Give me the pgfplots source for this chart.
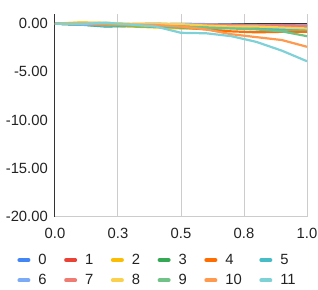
\documentclass[border=0pt]{standalone}
\usepackage{pgfplots}
\pgfplotsset{compat=1.18}
\usepackage{fontspec}
\setmainfont{Liberation Sans}
\definecolor{c0}{HTML}{4285F4}
\definecolor{c1}{HTML}{EA4335}
\definecolor{c2}{HTML}{FBBC04}
\definecolor{c3}{HTML}{34A853}
\definecolor{c4}{HTML}{FF6D01}
\definecolor{c5}{HTML}{46BDC6}
\definecolor{c6}{HTML}{7BAAF7}
\definecolor{c7}{HTML}{F07B72}
\definecolor{c8}{HTML}{FCD04F}
\definecolor{c9}{HTML}{71C287}
\definecolor{c10}{HTML}{FF994D}
\definecolor{c11}{HTML}{7ED1D7}
\definecolor{gridc}{HTML}{CCCCCC}
\definecolor{darkc}{HTML}{333333}
\definecolor{txt}{HTML}{222222}
\begin{document}
\begin{tikzpicture}[x=1pt,y=1pt]
\useasboundingbox (-55pt,-72.5pt) rectangle (263pt,216.5pt);
\begin{axis}[
  scale only axis,
  width=252pt, height=202.5pt,
  xmin=0, xmax=1, ymin=-20, ymax=1,
  axis x line*=bottom, axis y line*=left,
  x axis line style={draw=gridc, line width=1pt, -},
  y axis line style={draw=darkc, line width=1pt, -},
  xtick={0,0.25,0.5,0.75,1},
  xticklabels={0.0,0.3,0.5,0.8,1.0},
  ytick={-20,-15,-10,-5,0},
  yticklabels={-20.00,-15.00,-10.00,-5.00,0.00},
  major tick length=0pt,
  tick style={draw=none},
  xmajorgrids,
  major grid style={draw=gridc, line width=1pt},
  extra y ticks={0},
  extra y tick labels={},
  extra y tick style={ymajorgrids=true, major grid style={draw=darkc, line width=1pt}},
  ticklabel style={font=\fontsize{14.8}{16}\selectfont, text=txt},
  yticklabel style={inner sep=0pt, xshift=-7pt},
  xticklabel style={inner sep=0pt, anchor=center, yshift=-16.5pt},
  /pgf/number format/assume math mode=true,
  every axis plot/.append style={line width=2.2pt, line join=round},
  legend columns=6,
  legend cell align=left,
  legend style={draw=none, fill=none, at={(axis description cs:0.405,-0.17)}, anchor=north,
    font=\fontsize{14.8}{16}\selectfont, text=txt,
    nodes={inner sep=1pt},
    row sep=6.5pt,
    /tikz/every odd column/.append style={column sep=7pt},
    /tikz/every even column/.append style={column sep=16.5pt}},
  legend image code/.code={\draw[line width=4pt, line cap=round, #1] (2pt,0pt) -- (11pt,0pt);},
]
\addplot[c0] coordinates {(0,0) (0.1,-0.05) (0.2,-0.1) (0.3,-0.05) (0.4,0) (0.5,-0.1) (0.6,-0.15) (0.7,-0.1) (0.8,-0.2) (0.9,-0.25) (1,-0.3)};
\addlegendentry{0}
\addplot[c1] coordinates {(0,0) (0.1,-0.1) (0.2,-0.1) (0.3,-0.15) (0.4,-0.1) (0.5,-0.2) (0.6,-0.2) (0.7,-0.15) (0.8,-0.2) (0.9,-0.15) (1,-0.2)};
\addlegendentry{1}
\addplot[c2] coordinates {(0,0) (0.1,-0.1) (0.2,-0.2) (0.3,-0.3) (0.4,-0.4) (0.5,-0.5) (0.6,-0.5) (0.7,-0.45) (0.8,-0.5) (0.9,-0.6) (1,-0.7)};
\addlegendentry{2}
\addplot[c3] coordinates {(0,0) (0.1,-0.1) (0.2,-0.3) (0.3,-0.25) (0.4,-0.3) (0.5,-0.35) (0.6,-0.3) (0.7,-0.4) (0.8,-0.35) (0.9,-0.4) (1,-0.45)};
\addlegendentry{3}
\addplot[c4] coordinates {(0,0) (0.1,0) (0.2,-0.1) (0.3,-0.1) (0.4,-0.2) (0.5,-0.4) (0.6,-0.6) (0.7,-0.8) (0.8,-0.9) (0.9,-0.85) (1,-0.85)};
\addlegendentry{4}
\addplot[c5] coordinates {(0,0) (0.1,-0.1) (0.2,-0.2) (0.3,-0.2) (0.4,-0.3) (0.5,-0.4) (0.6,-0.5) (0.7,-0.45) (0.8,-0.5) (0.9,-0.6) (1,-0.6)};
\addlegendentry{5}
\addplot[c6] coordinates {(0,0) (0.1,-0.1) (0.2,-0.2) (0.3,-0.1) (0.4,-0.05) (0.5,0) (0.6,-0.05) (0.7,-0.1) (0.8,-0.15) (0.9,-0.2) (1,-0.2)};
\addlegendentry{6}
\addplot[c7] coordinates {(0,0) (0.1,0) (0.2,-0.1) (0.3,-0.2) (0.4,-0.2) (0.5,-0.15) (0.6,-0.1) (0.7,-0.15) (0.8,-0.2) (0.9,-0.2) (1,-0.25)};
\addlegendentry{7}
\addplot[c8] coordinates {(0,0) (0.1,0.15) (0.2,0.1) (0.3,0) (0.4,0) (0.5,-0.05) (0.6,-0.2) (0.7,-0.3) (0.8,-0.3) (0.9,-0.4) (1,-0.5)};
\addlegendentry{8}
\addplot[c9] coordinates {(0,0) (0.1,0) (0.2,-0.1) (0.3,-0.2) (0.4,-0.25) (0.5,-0.3) (0.6,-0.4) (0.7,-0.5) (0.8,-0.6) (0.9,-0.8) (1,-1.3)};
\addlegendentry{9}
\addplot[c10] coordinates {(0,0) (0.1,0) (0.2,-0.05) (0.3,-0.1) (0.4,-0.15) (0.5,-0.3) (0.6,-0.6) (0.7,-1.1) (0.8,-1.4) (0.9,-1.7) (1,-2.4)};
\addlegendentry{10}
\addplot[c11] coordinates {(0,0) (0.1,-0.05) (0.2,0.1) (0.3,-0.1) (0.4,-0.3) (0.5,-0.95) (0.6,-1.0) (0.7,-1.3) (0.8,-1.9) (0.9,-2.8) (1,-3.9)};
\addlegendentry{11}
\end{axis}
\end{tikzpicture}
\end{document}
